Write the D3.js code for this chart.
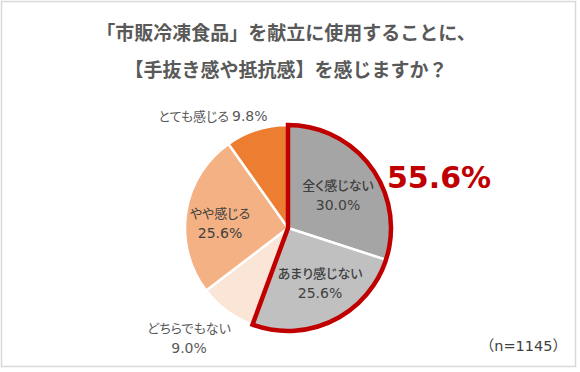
<!DOCTYPE html>
<html>
<head>
<meta charset="utf-8">
<script src="https://cdn.jsdelivr.net/npm/d3@7"></script>
<style>
  body { margin: 0; background: #fff; }
  text { font-family: "DejaVu Sans", "Noto Sans CJK JP", sans-serif; }
  .jp { font-family: "Noto Sans CJK JP", sans-serif; font-feature-settings: "palt"; }
</style>
</head>
<body>
<div id="chart"></div>
<script>
// データ
const categories = ['全く感じない', 'あまり感じない', 'どちらでもない', 'やや感じる', 'とても感じる'];
const values = [30.0, 25.6, 9.0, 25.6, 9.8];
const colors = ['#a5a5a5', '#c0c0c0', '#fbe5d6', '#f4b183', '#ed7d31'];
const titleLines = ['「市販冷凍食品」を献立に使用することに、', '【手抜き感や抵抗感】を感じますか？'];
const highlightLabel = '55.6%';
const sampleLabel = '（n=1145）';

const width = 580, height = 372;
const cx = 288, cy = 228, radius = 103;

const svg = d3.select('#chart')
  .append('svg')
  .attr('width', width)
  .attr('height', height);

// 枠線
svg.append('rect')
  .attr('x', 1.5).attr('y', 1.5)
  .attr('width', 574).attr('height', 365)
  .attr('fill', '#fff')
  .attr('stroke', '#d9d9d9')
  .attr('stroke-width', 1.5);

// タイトル
svg.append('g')
  .selectAll('text')
  .data(titleLines)
  .enter()
  .append('text')
  .attr('x', 286)
  .attr('y', (d, i) => 40 + i * 37)
  .attr('text-anchor', 'middle')
  .attr('font-size', 19)
  .attr('font-weight', 'bold')
  .attr('fill', '#595959')
  .style('font-family', '"Noto Sans CJK JP", sans-serif')
  .text(d => d);

const data = categories.map((c, i) => ({ name: c, value: values[i], color: colors[i] }));
const pie = d3.pie().sort(null).value(d => d.value);
const arcs = pie(data);
const arc = d3.arc().innerRadius(0).outerRadius(radius);

const g = svg.append('g').attr('transform', `translate(${cx},${cy})`);

g.selectAll('path.slice')
  .data(arcs)
  .enter()
  .append('path')
  .attr('class', 'slice')
  .attr('d', arc)
  .attr('fill', d => d.data.color)
  .attr('stroke', '#fff')
  .attr('stroke-width', 2.5);

// 「感じない」合計の赤枠
const hiEnd = arcs[1].endAngle;
g.append('path')
  .attr('d', d3.arc().innerRadius(0).outerRadius(radius)({ startAngle: 0, endAngle: hiEnd }))
  .attr('fill', 'none')
  .attr('stroke', '#c00000')
  .attr('stroke-width', 4.5)
  .attr('stroke-linejoin', 'miter');

const pct = v => d3.format('.1f')(v) + '%';

// ラベル（2行）
const labels = [
  { i: 0, dx: 50, dy: -38, fill: '#404040' },
  { i: 1, dx: 32, dy: 50, fill: '#404040' },
  { i: 3, dx: -68, dy: -10, fill: '#404040' },
  { i: 2, dx: -99, dy: 105, fill: '#595959' }
];
labels.forEach(p => {
  const t = g.append('text')
    .attr('text-anchor', 'middle')
    .attr('fill', p.fill);
  t.append('tspan').attr('class', 'jp').attr('font-size', 13)
    .attr('font-weight', p.i < 2 ? 500 : 400)
    .attr('x', p.dx).attr('y', p.dy).text(categories[p.i]);
  t.append('tspan').attr('font-size', 14)
    .attr('x', p.dx).attr('y', p.dy + 20).text(pct(values[p.i]));
});

// ラベル（1行）
const one = g.append('text')
  .attr('x', -75).attr('y', -107)
  .attr('text-anchor', 'middle')
  .attr('fill', '#595959');
one.append('tspan').attr('class', 'jp').attr('font-size', 13).text(categories[4] + ' ');
one.append('tspan').attr('font-size', 14).text(pct(values[4]));

// 強調
svg.append('text')
  .attr('x', 387).attr('y', 188)
  .attr('font-size', 30)
  .attr('font-weight', 'bold')
  .attr('fill', '#c00000')
  .text(highlightLabel);

svg.append('text')
  .attr('x', 567).attr('y', 351)
  .attr('text-anchor', 'end')
  .attr('font-size', 14.5)
  .attr('fill', '#404040')
  .text(sampleLabel);
</script>
</body>
</html>
